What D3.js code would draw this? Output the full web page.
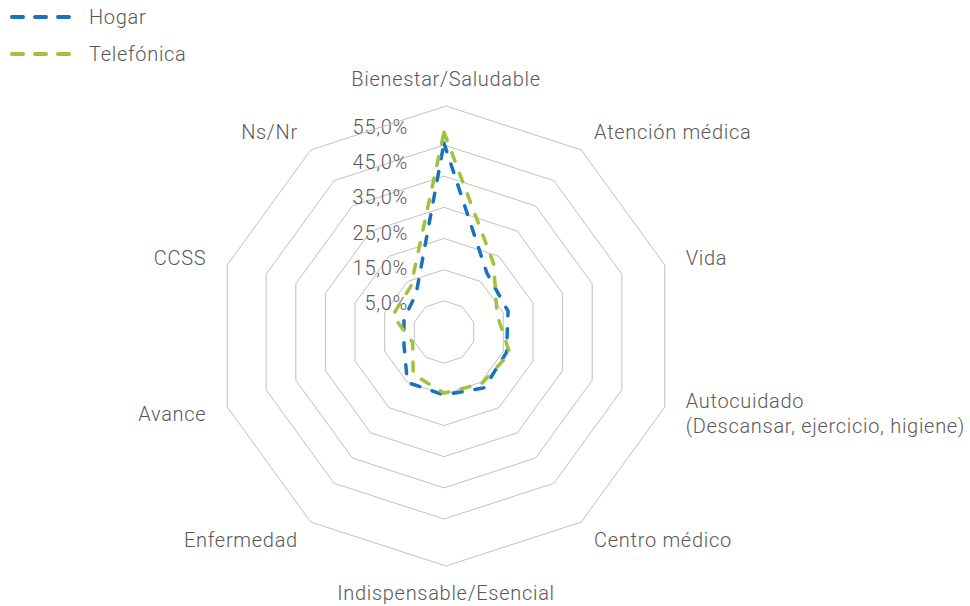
<!DOCTYPE html>
<html>
<head>
<meta charset="utf-8">
<script src="https://cdn.jsdelivr.net/npm/d3@7"></script>
<style>
  body { margin: 0; background: #fff; }
  text { font-family: Roboto, "Noto Sans", sans-serif; font-weight: 300; fill: #595959; letter-spacing: 0.7px; }
</style>
</head>
<body>
<div id="radar"></div>
<script>
// categories clockwise from the top
const categories = [
  "Bienestar/Saludable",
  "Atención médica",
  "Vida",
  "Autocuidado\n(Descansar, ejercicio, higiene)",
  "Centro médico",
  "Indispensable/Esencial",
  "Enfermedad",
  "Avance",
  "CCSS",
  "Ns/Nr"
];
const hogar      = [55.6, 18.4, 16.6, 16.1, 17.1, 15.2, 15.0, 8.5, 8.5, 10.2];
const telefonica = [59.1, 22.1, 12.9, 17.2, 15.5, 14.6, 11.8, 5.6, 12.3, 13.1];
const tickValues = [5, 15, 25, 35, 45, 55];
const seriesNames = ["Hogar", "Telefónica"];
const seriesColors = ["#1a72bd", "#a0c23c"];

const width = 970, height = 606;
const cx = 444, cy = 332;
// the outer frame and the category labels sit slightly off the inner grid in the original
const frameCx = 446, frameCy = 336, outerR = 230;

const svg = d3.select('#radar')
  .append('svg')
  .attr('width', width)
  .attr('height', height);

const r = d3.scaleLinear().domain([-5, 55]).range([0, 187]);
const angle = d3.scalePoint().domain(d3.range(categories.length)).range([0, 2 * Math.PI * 0.9]);

const g = svg.append('g').attr('transform', `translate(${cx},${cy})`);
const frame = svg.append('g').attr('transform', `translate(${frameCx},${frameCy})`);

const ringLine = d3.lineRadial()
  .angle((d, i) => angle(i))
  .radius(d => d)
  .curve(d3.curveLinearClosed);

// grid rings
g.selectAll('path.ring')
  .data(tickValues.map(v => r(v)))
  .enter()
  .append('path')
  .attr('class', 'ring')
  .attr('d', rad => ringLine(categories.map(() => rad)))
  .attr('fill', 'none')
  .attr('stroke', '#c0c0c0')
  .attr('stroke-width', 1);

frame.append('path')
  .attr('d', ringLine(categories.map(() => outerR)))
  .attr('fill', 'none')
  .attr('stroke', '#c0c0c0')
  .attr('stroke-width', 1);

// tick labels (sit a bit above their rings, like the original)
const labelY = d3.scaleLinear().domain([5, 55]).range([-29, -205]);
g.selectAll('text.tick')
  .data(tickValues)
  .enter()
  .append('text')
  .attr('class', 'tick')
  .attr('x', -36)
  .attr('y', d => labelY(d))
  .attr('dy', '0.35em')
  .attr('text-anchor', 'end')
  .attr('font-size', 20)
  .text(d => d3.format('.1f')(d).replace('.', ',') + '%');

// series
const seriesLine = d3.lineRadial()
  .angle((d, i) => angle(i))
  .radius(d => r(d))
  .curve(d3.curveLinearClosed);

[hogar, telefonica].forEach((vals, k) => {
  g.append('path')
    .attr('d', seriesLine(vals))
    .attr('fill', 'none')
    .attr('stroke', seriesColors[k])
    .attr('stroke-width', 3.5)
    .attr('stroke-linecap', 'round')
    .attr('stroke-linejoin', 'round')
    .attr('stroke-dasharray', '9,13');
});

// category labels
const labelRx = 252, labelRy = 257;
const cat = frame.selectAll('text.cat')
  .data(categories)
  .enter()
  .append('text')
  .attr('class', 'cat')
  .attr('font-size', 20)
  .attr('text-anchor', (d, i) => {
    const s = Math.sin(angle(i));
    return Math.abs(s) < 0.01 ? 'middle' : (s > 0 ? 'start' : 'end');
  })
  .attr('transform', (d, i) => {
    const a = angle(i);
    const rr = Math.abs(Math.sin(a)) < 0.01 ? labelRy : labelRx;
    return `translate(${rr * Math.sin(a)},${-rr * Math.cos(a)})`;
  });

cat.each(function (d) {
  const lines = d.split('\n');
  const t = d3.select(this);
  lines.forEach((ln, j) => {
    t.append('tspan')
      .attr('x', 0)
      .attr('y', (j - (lines.length - 1) / 2) * 25)
      .attr('dy', '0.35em')
      .text(ln);
  });
});

// legend
const legend = svg.append('g').attr('transform', 'translate(12,17)');
seriesNames.forEach((name, k) => {
  const row = legend.append('g').attr('transform', `translate(0,${k * 37})`);
  row.append('line')
    .attr('x1', 0).attr('x2', 66)
    .attr('stroke', seriesColors[k])
    .attr('stroke-width', 4)
    .attr('stroke-linecap', 'round')
    .attr('stroke-dasharray', '11,12');
  row.append('text')
    .attr('x', 77)
    .attr('dy', '0.35em')
    .attr('font-size', 20)
    .text(name);
});
</script>
</body>
</html>
